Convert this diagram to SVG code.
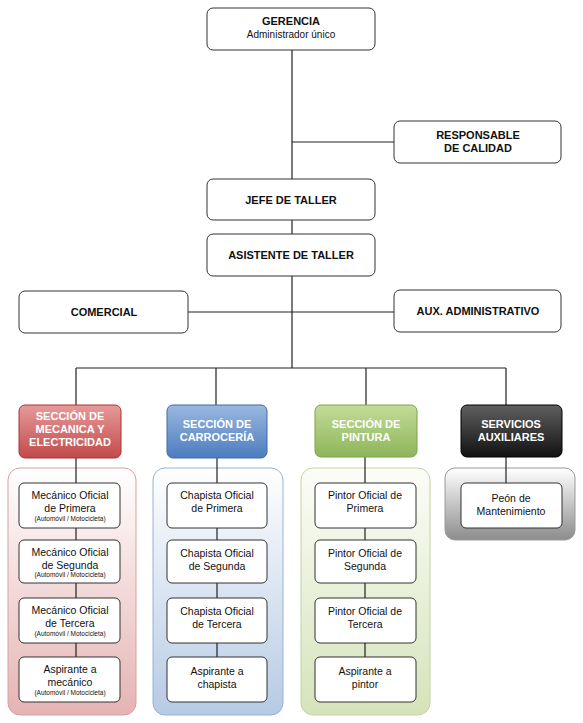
<svg xmlns="http://www.w3.org/2000/svg" width="583" height="723" viewBox="0 0 583 723">
<defs>
<linearGradient id="gRed" x1="0" y1="0" x2="0" y2="1"><stop offset="0" stop-color="#e69a9a"/><stop offset="1" stop-color="#c24a4a"/></linearGradient>
<linearGradient id="gBlue" x1="0" y1="0" x2="0" y2="1"><stop offset="0" stop-color="#9ab8e0"/><stop offset="1" stop-color="#4d7cbf"/></linearGradient>
<linearGradient id="gGreen" x1="0" y1="0" x2="0" y2="1"><stop offset="0" stop-color="#c3dc98"/><stop offset="1" stop-color="#8db55a"/></linearGradient>
<linearGradient id="gBlack" x1="0" y1="0" x2="0" y2="1"><stop offset="0" stop-color="#606060"/><stop offset="1" stop-color="#111111"/></linearGradient>
<linearGradient id="pRed" x1="0" y1="0" x2="0" y2="1"><stop offset="0" stop-color="#ffffff"/><stop offset="1" stop-color="#e6b3b3"/></linearGradient>
<linearGradient id="pBlue" x1="0" y1="0" x2="0" y2="1"><stop offset="0" stop-color="#ffffff"/><stop offset="1" stop-color="#b6cae4"/></linearGradient>
<linearGradient id="pGreen" x1="0" y1="0" x2="0" y2="1"><stop offset="0" stop-color="#fcfdf8"/><stop offset="1" stop-color="#d5e3ba"/></linearGradient>
<linearGradient id="pGray" x1="0" y1="0" x2="0" y2="1"><stop offset="0" stop-color="#ffffff"/><stop offset="1" stop-color="#8c8c8c"/></linearGradient>
</defs>
<style>
.box{fill:#fff;stroke:#333;stroke-width:1}
.ln{stroke:#222;stroke-width:1.2;fill:none}
.t{font-family:"Liberation Sans",Arial,sans-serif;text-anchor:middle;fill:#111}
.b{font-weight:bold;font-size:11px}
.r{font-size:10.5px}
.s{font-size:6.5px}
.h{font-family:"Liberation Sans",Arial,sans-serif;text-anchor:middle;font-weight:bold;font-size:11px;fill:#fff}
</style>
<rect width="583" height="723" fill="#fff"/>

<g id="panels">
<rect x="8" y="468" width="128" height="247" rx="12" fill="url(#pRed)" stroke="#d9a0a0"/>
<rect x="153" y="468" width="130" height="247" rx="12" fill="url(#pBlue)" stroke="#98b2d4"/>
<rect x="301" y="468" width="129" height="247" rx="12" fill="url(#pGreen)" stroke="#c2d4a2"/>
<rect x="445" y="468" width="130" height="72" rx="10" fill="url(#pGray)" stroke="#999"/>
</g>

<g id="connectors">
<path class="ln" d="M292 50V368M292 142H394M188 312H394M76 368H506M76 368V405M216 368V405M366 368V405M506 368V405"/>
<path class="ln" d="M76 458V483M76 528V540M76 583V598M76 643V657"/>
<path class="ln" d="M217 458V483M217 528V540M217 583V598M217 643V657"/>
<path class="ln" d="M365 457V483M365 528V540M365 583V598M365 643V657"/>
<path class="ln" d="M506 457V483"/>
</g>

<g id="gerencia"><rect class="box" x="207" y="8" width="168" height="42" rx="6"/><text class="t b" x="291" y="25">GERENCIA</text><text class="t" style="font-size:10px" x="291" y="38">Administrador único</text></g>
<g id="calidad"><rect class="box" x="394" y="121" width="167" height="42" rx="6"/><text class="t b" x="478" y="139">RESPONSABLE</text><text class="t b" x="478" y="152">DE CALIDAD</text></g>
<g id="jefe"><rect class="box" x="207" y="179" width="168" height="41" rx="6"/><text class="t b" x="291" y="204">JEFE DE TALLER</text></g>
<g id="asistente"><rect class="box" x="207" y="234" width="168" height="42" rx="6"/><text class="t b" x="291" y="259">ASISTENTE DE TALLER</text></g>
<g id="comercial"><rect class="box" x="19" y="291" width="169" height="42" rx="6"/><text class="t b" x="104" y="316">COMERCIAL</text></g>
<g id="aux"><rect class="box" x="394" y="290" width="167" height="42" rx="6"/><text class="t b" x="478" y="315">AUX. ADMINISTRATIVO</text></g>

<g id="sec-mecanica"><rect x="19" y="405" width="102" height="53" rx="6" fill="url(#gRed)" stroke="#a33"/><text class="h" x="70" y="420">SECCIÓN DE</text><text class="h" x="70" y="433">MECANICA Y</text><text class="h" x="70" y="446">ELECTRICIDAD</text></g>
<g id="sec-carroceria"><rect x="167" y="405" width="100" height="53" rx="6" fill="url(#gBlue)" stroke="#3d6aa8"/><text class="h" x="217" y="428">SECCIÓN DE</text><text class="h" x="217" y="441">CARROCERÍA</text></g>
<g id="sec-pintura"><rect x="315" y="405" width="102" height="52" rx="6" fill="url(#gGreen)" stroke="#7ea24c"/><text class="h" x="366" y="428">SECCIÓN DE</text><text class="h" x="366" y="441">PINTURA</text></g>
<g id="sec-servicios"><rect x="461" y="405" width="101" height="52" rx="6" fill="url(#gBlack)" stroke="#000"/><text class="h" x="511" y="428">SERVICIOS</text><text class="h" x="511" y="441">AUXILIARES</text></g>

<g id="mec1"><rect class="box" x="19" y="483" width="101" height="45" rx="5"/><text class="t r" x="70" y="499">Mecánico Oficial</text><text class="t r" x="70" y="512">de Primera</text><text class="t s" x="70" y="521">(Automóvil / Motocicleta)</text></g>
<g id="mec2"><rect class="box" x="19" y="540" width="101" height="43" rx="5"/><text class="t r" x="70" y="556">Mecánico Oficial</text><text class="t r" x="70" y="569">de Segunda</text><text class="t s" x="70" y="577">(Automóvil / Motocicleta)</text></g>
<g id="mec3"><rect class="box" x="19" y="598" width="101" height="45" rx="5"/><text class="t r" x="70" y="614">Mecánico Oficial</text><text class="t r" x="70" y="627">de Tercera</text><text class="t s" x="70" y="636">(Automóvil / Motocicleta)</text></g>
<g id="mec4"><rect class="box" x="19" y="657" width="101" height="45" rx="5"/><text class="t r" x="70" y="673">Aspirante a</text><text class="t r" x="70" y="686">mecánico</text><text class="t s" x="70" y="695">(Automóvil / Motocicleta)</text></g>

<g id="cha1"><rect class="box" x="167" y="483" width="100" height="45" rx="5"/><text class="t r" x="217" y="499">Chapista Oficial</text><text class="t r" x="217" y="512">de Primera</text></g>
<g id="cha2"><rect class="box" x="167" y="540" width="100" height="43" rx="5"/><text class="t r" x="217" y="557">Chapista Oficial</text><text class="t r" x="217" y="570">de Segunda</text></g>
<g id="cha3"><rect class="box" x="167" y="598" width="100" height="45" rx="5"/><text class="t r" x="217" y="615">Chapista Oficial</text><text class="t r" x="217" y="628">de Tercera</text></g>
<g id="cha4"><rect class="box" x="167" y="657" width="100" height="45" rx="5"/><text class="t r" x="217" y="675">Aspirante a</text><text class="t r" x="217" y="688">chapista</text></g>

<g id="pin1"><rect class="box" x="315" y="483" width="101" height="45" rx="5"/><text class="t r" x="365" y="499">Pintor Oficial de</text><text class="t r" x="365" y="512">Primera</text></g>
<g id="pin2"><rect class="box" x="315" y="540" width="101" height="43" rx="5"/><text class="t r" x="365" y="557">Pintor Oficial de</text><text class="t r" x="365" y="570">Segunda</text></g>
<g id="pin3"><rect class="box" x="315" y="598" width="101" height="45" rx="5"/><text class="t r" x="365" y="615">Pintor Oficial de</text><text class="t r" x="365" y="628">Tercera</text></g>
<g id="pin4"><rect class="box" x="315" y="657" width="101" height="45" rx="5"/><text class="t r" x="365" y="675">Aspirante a</text><text class="t r" x="365" y="688">pintor</text></g>

<g id="peon"><rect class="box" x="461" y="483" width="101" height="45" rx="5"/><text class="t r" x="511" y="502">Peón de</text><text class="t r" x="511" y="515">Mantenimiento</text></g>
</svg>
